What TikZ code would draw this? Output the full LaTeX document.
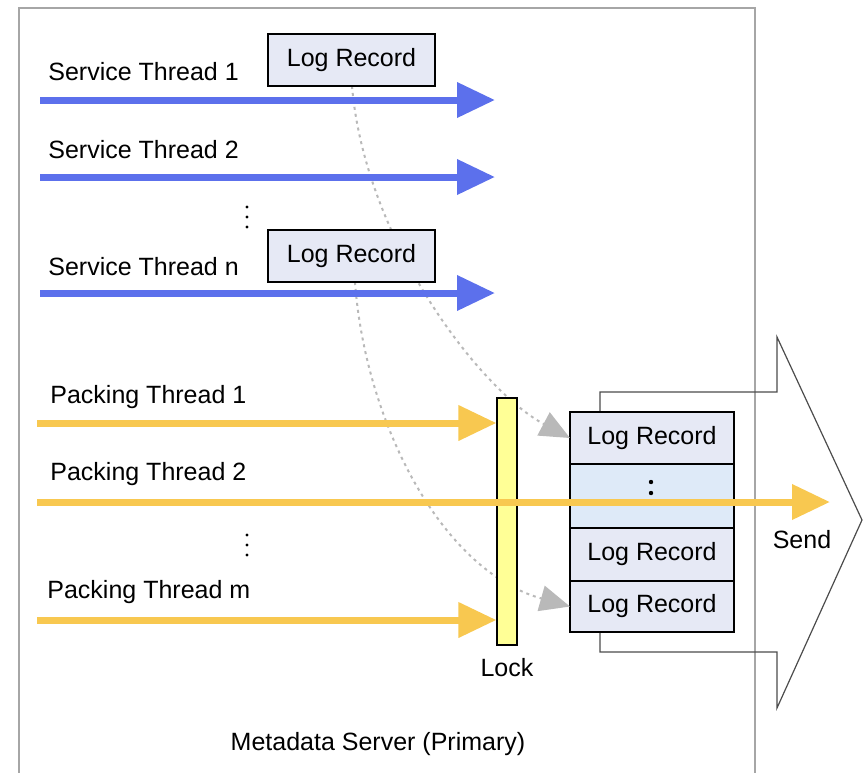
\documentclass[tikz,border=0pt]{standalone}
\usepackage{fontspec}
\setmainfont{Liberation Sans}
\usepackage{xcolor}
\usetikzlibrary{positioning, arrows.meta, calc}

\definecolor{threadblue}{RGB}{92,112,236}
\definecolor{packyellow}{RGB}{248,200,80}
\definecolor{lockyellow}{RGB}{255,255,150}
\definecolor{recfill}{RGB}{230,233,245}
\definecolor{recmid}{RGB}{222,234,248}

\begin{document}
\begin{tikzpicture}[
    x=0.5pt, y=-0.5pt,
    font=\fontsize{12.5}{15}\selectfont,
    label/.style={anchor=west, inner sep=0pt},
    logrec/.style={rectangle, fill=recfill, draw=black, line width=0.6pt,
                   minimum width=83.5pt, minimum height=26pt, inner sep=0pt},
    stackrow/.style={rectangle, fill=recfill, draw=black, line width=0.6pt,
                     minimum width=82pt, inner sep=0pt, outer sep=0pt},
    lockbar/.style={rectangle, fill=lockyellow, draw=black, line width=0.6pt,
                    minimum width=10pt, minimum height=123.5pt, inner sep=0pt},
    barrow/.style={-{Triangle[length=19pt, width=17pt]}, threadblue, line width=3.5pt},
    yarrow/.style={-{Triangle[length=19pt, width=17pt]}, packyellow, line width=3.5pt},
    copyarr/.style={-{Triangle[length=15pt, width=13pt]}, gray!55,
                    dash pattern=on 1.5pt off 2pt, line width=1pt},
    dotmark/.style={circle, fill=black, inner sep=0pt, minimum size=1.6pt},
]
\useasboundingbox (0,0) rectangle (863,772);

% server frame
\draw[gray!70, line width=1pt] (19,780) -- (19,8) -- (755,8) -- (755,780);
\node (server) at (378,744) {Metadata Server (Primary)};

% service threads
\node[label] (st1) at (48,72)  {Service Thread 1};
\node[label] (st2) at (48,150) {Service Thread 2};
\node[label] (stn) at (48,267) {Service Thread n};
\foreach \i in {0,1,2} \node[dotmark] (sdot\i) at (247,207+10*\i) {};
\coordinate (s1a) at (40,100);  \coordinate (s1b) at (495,100);
\coordinate (s2a) at (40,177);  \coordinate (s2b) at (495,177);
\coordinate (sna) at (40,293);  \coordinate (snb) at (495,293);

% packing threads
\node[label] (pt1) at (50,397) {Packing Thread 1};
\node[label] (pt2) at (50,474) {Packing Thread 2};
\node[label] (ptm) at (47,592) {Packing Thread m};
\foreach \i in {0,1,2} \node[dotmark] (pdot\i) at (247,535+10*\i) {};
\coordinate (p1a) at (37,423);
\coordinate (p2a) at (37,502);  \coordinate (p2b) at (830,502);
\coordinate (pma) at (37,620);

% send shape
\draw[gray!60!black, line width=0.6pt]
    (600,412) -- (600,392) -- (777,392) -- (777,337) -- (862,520)
    -- (777,708) -- (777,652) -- (600,652) -- (600,632);
\node (send) at (802,540) {Send};

% log records written by service threads
\coordinate (c1) at (352,86);
\coordinate (cn) at (355,282);
\node[stackrow, minimum height=26pt, anchor=north west] (rec1) at (570,412) {Log Record};
\node[stackrow, fill=recmid, minimum height=32pt, below=0pt of rec1] (recdots) {};
\node[stackrow, minimum height=26.5pt, below=0pt of recdots] (rec2) {Log Record};
\node[stackrow, minimum height=25.5pt, below=0pt of rec2] (rec3) {Log Record};
\node[dotmark, minimum size=2.2pt] (recdot1) at (651,482) {};
\node[dotmark, minimum size=2.2pt] (recdot2) at (651,493) {};

\draw[copyarr] (c1) .. controls (365,240) and (480,390) .. (rec1.west);
\draw[copyarr] (cn) .. controls (365,420) and (440,570) .. (rec3.west);

\node[logrec] (log1) at (351.5,60)  {Log Record};
\node[logrec] (logn) at (351.5,256) {Log Record};

\draw[barrow] (s1a) -- (s1b);
\draw[barrow] (s2a) -- (s2b);
\draw[barrow] (sna) -- (snb);

% lock
\node[lockbar] (lock) at (507,521.5) {};
\node (locklbl) at (507,668) {Lock};

\draw[yarrow] (p1a) -- (p1a -| lock.west);
\draw[yarrow] (pma) -- (pma -| lock.west);
\draw[yarrow] (p2a) -- (p2b);

\end{tikzpicture}
\end{document}
